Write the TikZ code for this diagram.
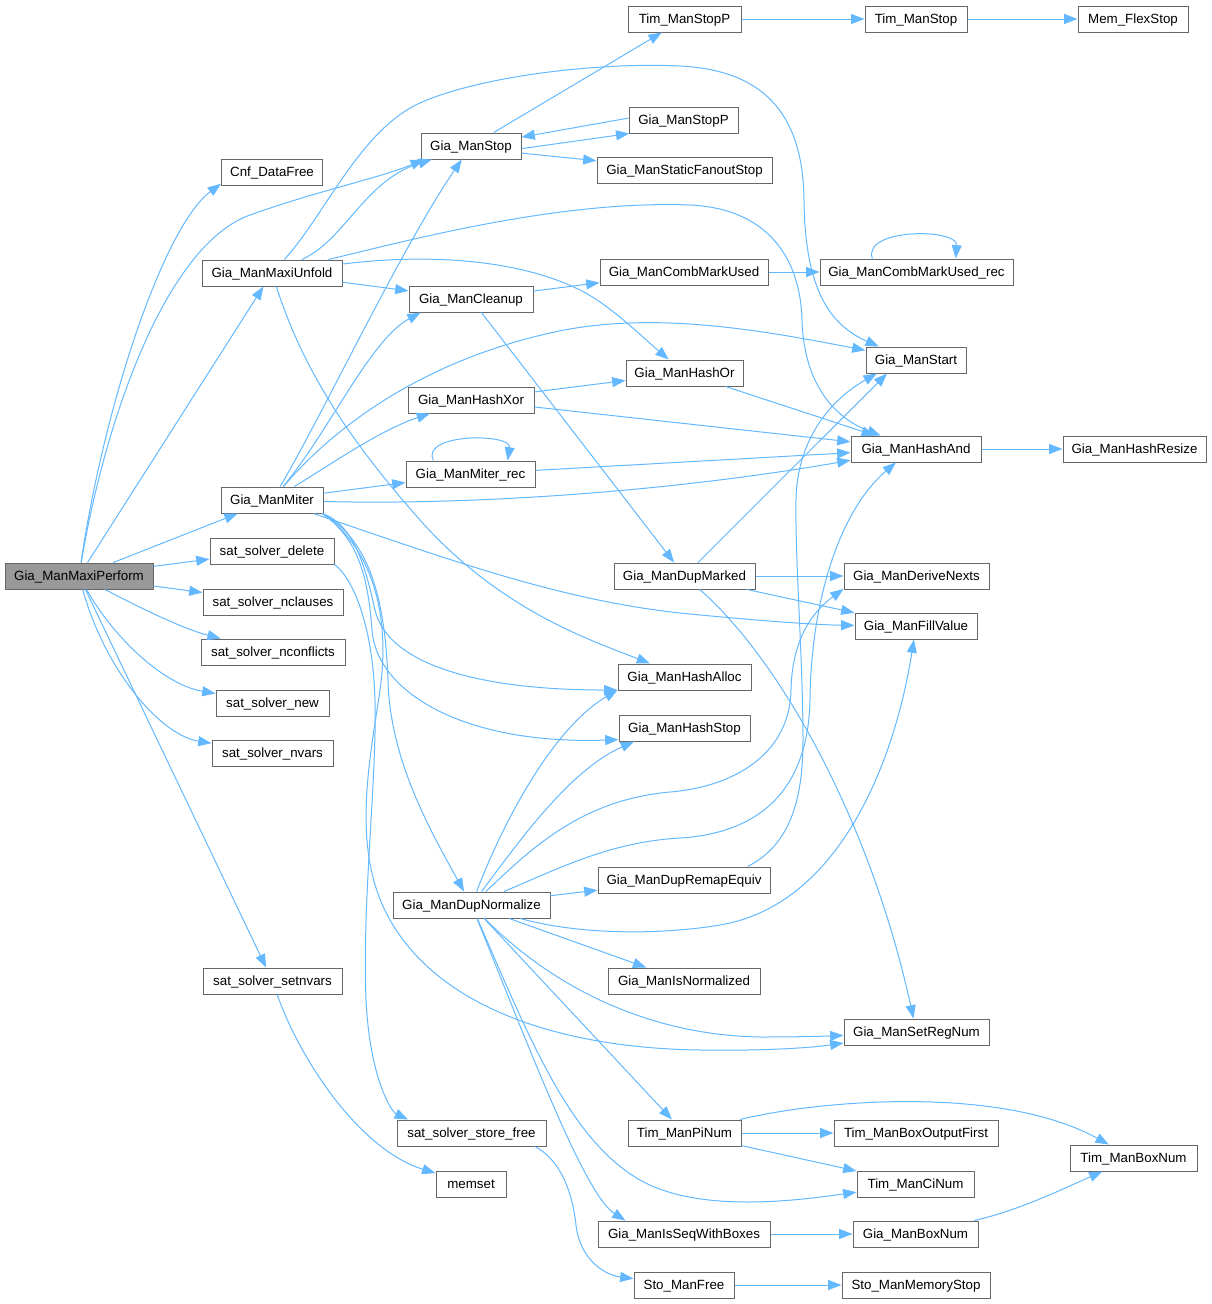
\documentclass[tikz,border=0pt]{standalone}
\usepackage{fontspec}
\setmainfont{Liberation Sans}
\usetikzlibrary{arrows.meta}
\definecolor{edgeblue}{HTML}{63B8FF}
\definecolor{nodeborder}{HTML}{666666}
\definecolor{rootfill}{HTML}{999999}
\begin{document}
\begin{tikzpicture}[x=0.75pt,y=-0.75pt,
  box/.style={draw=nodeborder,fill=white,line width=0.75pt,minimum height=19.5pt,inner sep=0pt,text height=7.2pt,text depth=0pt,font=\fontsize{10pt}{12pt}\selectfont,text=black},
  bw/.style={minimum width=#1*0.75pt},
  link/.style={draw=edgeblue,line width=0.75pt,-{Triangle[length=10pt,width=7.5pt]}}]
\useasboundingbox (0,0) rectangle (1212,1304);
% nodes
\node[box,bw=148,fill=rootfill] (root) at (79,576) {Gia\_ManMaxiPerform};
\node[box,bw=101] (cnf) at (272,172) {Cnf\_DataFree};
\node[box,bw=140] (unfold) at (272,273) {Gia\_ManMaxiUnfold};
\node[box,bw=102] (miter) at (272,500) {Gia\_ManMiter};
\node[box,bw=124] (sdel) at (272,551) {sat\_solver\_delete};
\node[box,bw=140] (sncl) at (273,602) {sat\_solver\_nclauses};
\node[box,bw=144] (sncf) at (273,652) {sat\_solver\_nconflicts};
\node[box,bw=113] (snew) at (272.5,703) {sat\_solver\_new};
\node[box,bw=121] (snv) at (272.5,753) {sat\_solver\_nvars};
\node[box,bw=139] (ssetn) at (272.5,981) {sat\_solver\_setnvars};
\node[box,bw=100] (stop) at (471,146) {Gia\_ManStop};
\node[box,bw=124] (clean) at (471,299) {Gia\_ManCleanup};
\node[box,bw=126] (hxor) at (471,400) {Gia\_ManHashXor};
\node[box,bw=129] (mrec) at (470.5,474) {Gia\_ManMiter\_rec};
\node[box,bw=157] (dupn) at (471.5,905) {Gia\_ManDupNormalize};
\node[box,bw=149] (sstore) at (471.5,1133) {sat\_solver\_store\_free};
\node[box,bw=70] (memset) at (471,1184) {memset};
\node[box,bw=113] (tstopp) at (684.5,19) {Tim\_ManStopP};
\node[box,bw=109] (stopp) at (683.5,120) {Gia\_ManStopP};
\node[box,bw=175] (sfo) at (684.5,170) {Gia\_ManStaticFanoutStop};
\node[box,bw=168] (comb) at (684,272) {Gia\_ManCombMarkUsed};
\node[box,bw=117] (hor) at (684.5,373) {Gia\_ManHashOr};
\node[box,bw=141] (dupm) at (684.5,576) {Gia\_ManDupMarked};
\node[box,bw=133] (halloc) at (684.5,677) {Gia\_ManHashAlloc};
\node[box,bw=131] (hstop) at (684.5,728) {Gia\_ManHashStop};
\node[box,bw=172] (remap) at (684,880) {Gia\_ManDupRemapEquiv};
\node[box,bw=152] (isnorm) at (684,981) {Gia\_ManIsNormalized};
\node[box,bw=113] (pinum) at (684.5,1133) {Tim\_ManPiNum};
\node[box,bw=172] (isseq) at (684,1234) {Gia\_ManIsSeqWithBoxes};
\node[box,bw=100] (stofree) at (684,1285) {Sto\_ManFree};
\node[box,bw=102] (tstop) at (916,19) {Tim\_ManStop};
\node[box,bw=193] (combrec) at (916.5,272) {Gia\_ManCombMarkUsed\_rec};
\node[box,bw=100] (start) at (916,360) {Gia\_ManStart};
\node[box,bw=130] (hand) at (916,449) {Gia\_ManHashAnd};
\node[box,bw=145] (derive) at (916.5,576) {Gia\_ManDeriveNexts};
\node[box,bw=122] (fill) at (916,626) {Gia\_ManFillValue};
\node[box,bw=145] (setreg) at (916.5,1032) {Gia\_ManSetRegNum};
\node[box,bw=164] (boxout) at (916,1133) {Tim\_ManBoxOutputFirst};
\node[box,bw=117] (cinum) at (915.5,1184) {Tim\_ManCiNum};
\node[box,bw=125] (gbox) at (915.5,1234) {Gia\_ManBoxNum};
\node[box,bw=148] (stomem) at (916,1285) {Sto\_ManMemoryStop};
\node[box,bw=110] (flex) at (1133,19) {Mem\_FlexStop};
\node[box,bw=143] (resize) at (1134.5,449) {Gia\_ManHashResize};
\node[box,bw=127] (tbox) at (1133.5,1158) {Tim\_ManBoxNum};
% root edges
\draw[link] (root) .. controls (105,400) and (165,225) .. (cnf.193);
\draw[link] (root) .. controls (105,420) and (166,245) .. (250,215) .. controls (320,190) and (380,178) .. (stop.196);
\draw[link] (root) -- (unfold);
\draw[link] (root) -- (miter);
\draw[link] (root) -- (sdel);
\draw[link] (root) -- (sncl);
\draw[link] (root) .. controls (135,605) and (180,628) .. (sncf);
\draw[link] (root) .. controls (115,640) and (165,685) .. (snew);
\draw[link] (root) .. controls (105,670) and (160,735) .. (snv);
\draw[link] (root) -- (ssetn);
% unfold edges
\draw[link] (unfold) .. controls (325,215) and (360,130) .. (420,103) .. controls (480,76) and (600,62) .. (680,66) .. controls (760,70) and (803,110) .. (804,200) .. controls (805,290) and (830,325) .. (start.160);
\draw[link] (unfold) .. controls (345,240) and (365,180) .. (stop.199);
\draw[link] (unfold) .. controls (410,240) and (560,200) .. (690,205) .. controls (760,208) and (800,250) .. (802,320) .. controls (804,390) and (840,420) .. (hand);
\draw[link] (unfold) -- (clean);
\draw[link] (unfold) .. controls (430,253) and (520,260) .. (580,290) .. controls (610,305) and (640,335) .. (hor);
\draw[link] (unfold) .. controls (300,360) and (340,430) .. (420,520) .. controls (500,610) and (590,640) .. (halloc);
% miter edges
\draw[link] (miter) .. controls (320,420) and (400,250) .. (stop);
\draw[link] (miter) .. controls (330,430) and (370,340) .. (clean.195);
\draw[link] (miter) .. controls (340,420) and (430,360) .. (550,333) .. controls (650,310) and (760,330) .. (start);
\draw[link] (miter) .. controls (330,465) and (380,430) .. (hxor);
\draw[link] (miter) -- (mrec);
\draw[link] (miter) .. controls (450,505) and (650,495) .. (hand);
\draw[link] (miter.-18) .. controls (450,560) and (560,600) .. (680,613) .. controls (760,621) and (820,625) .. (fill);
\draw[link] (miter.-15) .. controls (355,525) and (366,570) .. (375,610) .. controls (388,665) and (480,690) .. (halloc.191);
\draw[link] (miter.-15) .. controls (360,540) and (368,580) .. (372,630) .. controls (376,690) and (460,745) .. (hstop.190);
\draw[link] (miter.-15) .. controls (370,540) and (385,600) .. (388,680) .. controls (390,760) and (430,830) .. (dupn);
\draw[link] (miter.-15) .. controls (375,550) and (390,620) .. (380,690) .. controls (370,760) and (350,850) .. (390,920) .. controls (440,1008) and (560,1048) .. (700,1050) .. controls (760,1051) and (810,1048) .. (setreg);
% sat solver edges
\draw[link] (sdel.south east) .. controls (355,580) and (373,630) .. (375,700) .. controls (377,780) and (362,900) .. (366,1000) .. controls (370,1080) and (392,1112) .. (sstore.168);
\draw[link] (ssetn) .. controls (300,1060) and (360,1150) .. (memset);
% stop edges
\draw[link] (stop) -- (tstopp);
\draw[link] (stop.-3) -- (stopp.194);
\draw[link] (stopp.178) -- (stop.10);
\draw[link] (stop.-8) -- (sfo.174);
\draw[link] (tstopp) -- (tstop);
\draw[link] (tstop) -- (flex);
% cleanup
\draw[link] (clean) -- (comb);
\draw[link] (clean) -- (dupm);
\draw[link] (comb) -- (combrec);
\draw[link] (combrec.163) .. controls (862,228) and (958,228) .. (combrec.19);
% hash
\draw[link] (hxor) -- (hor);
\draw[link] (hxor) -- (hand);
\draw[link] (hor) -- (hand);
\draw[link] (mrec.160) .. controls (420,433) and (512,433) .. (mrec.20);
\draw[link] (mrec) -- (hand);
\draw[link] (hand) -- (resize);
% dupmarked
\draw[link] (dupm) -- (start.205);
\draw[link] (dupm) -- (derive);
\draw[link] (dupm) -- (fill);
\draw[link] (dupm) .. controls (780,660) and (870,820) .. (setreg);
% dupnormalize
\draw[link] (dupn) .. controls (500,830) and (550,730) .. (halloc.191);
\draw[link] (dupn) .. controls (520,840) and (570,770) .. (hstop.195);
\draw[link] (dupn) .. controls (530,850) and (580,800) .. (670,792) .. controls (740,786) and (790,750) .. (791,690) .. controls (792,640) and (812,612) .. (derive.190);
\draw[link] (dupn) .. controls (560,868) and (610,842) .. (680,838) .. controls (760,833) and (808,790) .. (810,700) .. controls (811,600) and (840,510) .. (hand.214);
\draw[link] (dupn) -- (remap);
\draw[link] (dupn) .. controls (580,935) and (660,935) .. (720,925) .. controls (840,905) and (895,760) .. (fill);
\draw[link] (dupn) -- (isnorm);
\draw[link] (dupn) .. controls (545,980) and (640,1035) .. (760,1037) .. controls (800,1037) and (830,1036) .. (setreg);
\draw[link] (dupn) -- (pinum);
\draw[link] (dupn) .. controls (530,1040) and (570,1140) .. (640,1180) .. controls (700,1214) and (800,1200) .. (cinum);
\draw[link] (dupn) .. controls (530,1050) and (585,1195) .. (isseq.167);
% remap
\draw[link] (remap.12) .. controls (790,845) and (803,800) .. (803,740) .. controls (803,660) and (795,560) .. (796,500) .. controls (797,440) and (830,400) .. (start.199);
% timing
\draw[link] (pinum) -- (boxout);
\draw[link] (pinum) -- (cinum);
\draw[link] (pinum) .. controls (820,1100) and (1000,1085) .. (tbox);
\draw[link] (isseq) -- (gbox);
\draw[link] (gbox) .. controls (1020,1210) and (1060,1190) .. (tbox);
\draw[link] (sstore.-12) .. controls (560,1160) and (572,1190) .. (576,1225) .. controls (580,1260) and (605,1275) .. (stofree);
\draw[link] (stofree) -- (stomem);
\end{tikzpicture}
\end{document}
